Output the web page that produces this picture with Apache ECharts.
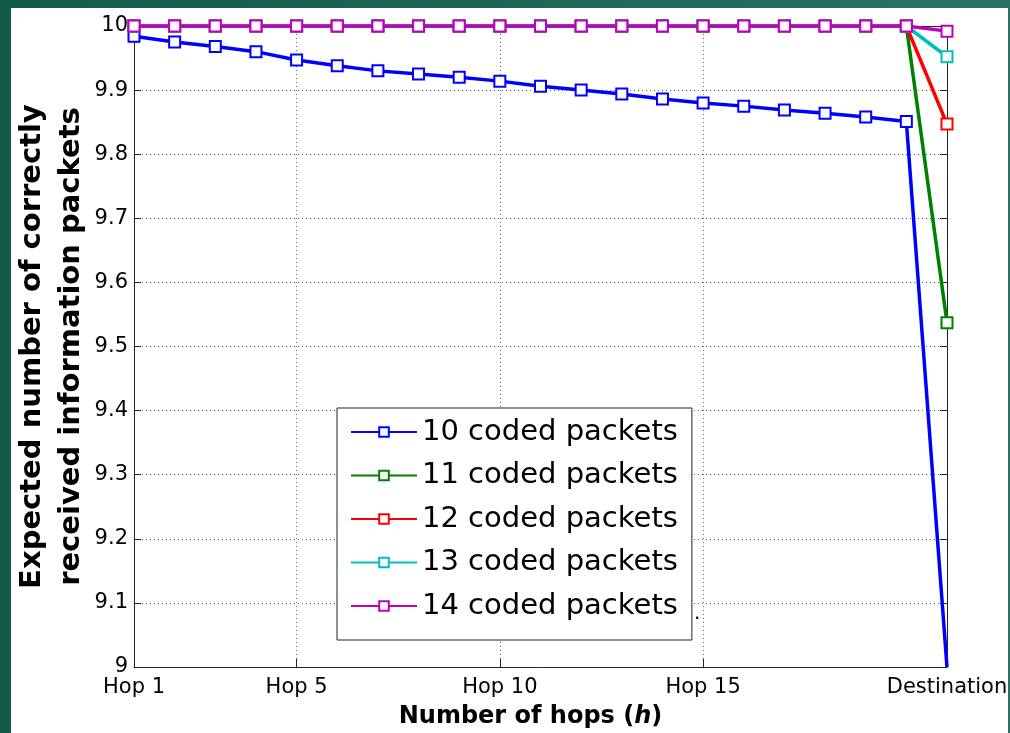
<!DOCTYPE html>
<html>
<head>
<meta charset="utf-8">
<script src="https://cdn.jsdelivr.net/npm/echarts@6/dist/echarts.min.js"></script>
<style>
  html, body { margin: 0; padding: 0; width: 1010px; height: 733px; overflow: hidden; }
  body { background: linear-gradient(90deg, #125a49 0%, #1d6656 50%, #2b7264 100%); position: relative; }
  #panel { position: absolute; left: 11px; top: 8px; width: 997px; height: 725px; background: #fff; }
  #chart { position: absolute; left: 0; top: 0; width: 1010px; height: 733px; }
</style>
</head>
<body>
<div id="panel"></div>
<div id="chart"></div>
<script>
// Categories (x axis)
const categories = ['Hop 1','Hop 2','Hop 3','Hop 4','Hop 5','Hop 6','Hop 7','Hop 8','Hop 9','Hop 10',
  'Hop 11','Hop 12','Hop 13','Hop 14','Hop 15','Hop 16','Hop 17','Hop 18','Hop 19','Hop 20','Destination'];
const labeledIndices = [0, 4, 9, 14, 20];
const gridIndices = [4, 9, 14];

// Series names
const seriesNames = ['10 coded packets','11 coded packets','12 coded packets','13 coded packets','14 coded packets'];

// Series values
const packets10 = [9.984, 9.975, 9.968, 9.960, 9.947, 9.938, 9.930, 9.925, 9.920, 9.914,
  9.906, 9.900, 9.894, 9.886, 9.880, 9.875, 9.869, 9.864, 9.858, 9.851, 9.000];
const packets11 = [10, 10, 10, 10, 10, 10, 10, 10, 10, 10, 10, 10, 10, 10, 10, 10, 10, 10, 10, 10, 9.537];
const packets12 = [10, 10, 10, 10, 10, 10, 10, 10, 10, 10, 10, 10, 10, 10, 10, 10, 10, 10, 10, 10, 9.847];
const packets13 = [10, 10, 10, 10, 10, 10, 10, 10, 10, 10, 10, 10, 10, 10, 10, 10, 10, 10, 10, 10, 9.952];
const packets14 = [10, 10, 10, 10, 10, 10, 10, 10, 10, 10, 10, 10, 10, 10, 10, 10, 10, 10, 10, 10, 9.992];

// Y axis ticks
const yMin = 9, yMax = 10, yStep = 0.1;

const colors = ['#0000ff', '#008000', '#ff0000', '#00bfbf', '#bf00bf'];
const allData = [packets10, packets11, packets12, packets13, packets14];

const chart = echarts.init(document.getElementById('chart'), null, { renderer: 'canvas' });

const axisColor = '#222';
const sans = 'DejaVu Sans';

const series = allData.map((d, i) => ({
  name: seriesNames[i],
  type: 'line',
  data: d,
  xAxisIndex: 0,
  yAxisIndex: 0,
  symbol: 'emptyRect',
  // markers sitting on the bottom frame are clipped away, as in the reference
  symbolSize: (v) => (v <= yMin ? 0 : 11),
  showAllSymbol: true,
  color: colors[i],
  lineStyle: { width: 3.5, color: colors[i] },
  itemStyle: { color: colors[i], borderColor: colors[i], borderWidth: 3.5 },
  emphasis: { disabled: true },
  animation: false,
  z: 3 + i
}));

const option = {
  backgroundColor: 'transparent',
  animation: false,
  grid: { left: 134, right: 63, top: 26, bottom: 66, containLabel: false, outerBoundsMode: 'none' },
  legend: {
    orient: 'vertical',
    left: 337,
    top: 408,
    padding: [9, 14, 19, 13],
    itemWidth: 66,
    itemHeight: 12,
    itemGap: 13.5,
    itemTextGap: 9,
    backgroundColor: '#fff',
    borderColor: '#222',
    borderWidth: 1,
    textStyle: { fontFamily: sans, fontSize: 29, color: '#000', lineHeight: 30 },
    data: seriesNames
  },
  xAxis: [{
    type: 'category',
    data: categories,
    boundaryGap: false,
    position: 'bottom',
    axisLine: { lineStyle: { color: axisColor, width: 1 } },
    axisTick: {
      inside: true, length: 8, lineStyle: { color: axisColor },
      interval: (idx) => gridIndices.includes(idx)
    },
    axisLabel: {
      interval: (idx) => labeledIndices.includes(idx),
      fontFamily: sans, fontSize: 21, color: '#000', margin: 10,
      showMinLabel: true, showMaxLabel: true
    },
    splitLine: {
      show: true,
      interval: (idx) => gridIndices.includes(idx),
      lineStyle: { color: '#666', type: [1, 3], width: 1 }
    },
    name: '{b|Number of hops (}{i|h}{b|)}',
    nameLocation: 'middle',
    nameGap: 38,
    nameMoveOverlap: false,
    nameTextStyle: {
      rich: {
        b: { fontFamily: sans, fontWeight: 'bold', fontSize: 24, color: '#000' },
        i: { fontFamily: sans, fontWeight: 'bold', fontStyle: 'italic', fontSize: 24, color: '#000' }
      },
      padding: [0, 20, 0, 0]
    }
  }, {
    type: 'category',
    data: categories,
    boundaryGap: false,
    position: 'top',
    axisLine: { lineStyle: { color: axisColor, width: 1 } },
    axisTick: { show: false },
    axisLabel: { show: false },
    splitLine: { show: false }
  }],
  yAxis: [{
    type: 'value',
    min: yMin, max: yMax, interval: yStep,
    position: 'left',
    axisLine: { show: true, lineStyle: { color: axisColor, width: 1 } },
    axisTick: { show: true, inside: true, length: 7, lineStyle: { color: axisColor } },
    axisLabel: {
      fontFamily: sans, fontSize: 21, color: '#000', margin: 6,
      formatter: (v) => String(+(+v).toFixed(1))
    },
    splitLine: { show: true, lineStyle: { color: '#666', type: [1, 3], width: 1 } },
    name: 'Expected number of correctly\nreceived information packets',
    nameLocation: 'middle',
    nameGap: 43,
    nameMoveOverlap: false,
    nameRotate: 90,
    nameTextStyle: { fontFamily: sans, fontWeight: 'bold', fontSize: 29, color: '#000', lineHeight: 39 }
  }, {
    type: 'value',
    min: yMin, max: yMax, interval: yStep,
    position: 'right',
    axisLine: { show: true, lineStyle: { color: axisColor, width: 1 } },
    axisTick: { show: true, inside: true, length: 7, lineStyle: { color: axisColor } },
    axisLabel: { show: false },
    splitLine: { show: false }
  }],
  graphic: [{
    type: 'text', left: 694, top: 604,
    style: { text: '.', fontFamily: sans, fontSize: 20, fill: '#000' }
  }],
  series: series
};

chart.setOption(option);
</script>
</body>
</html>
